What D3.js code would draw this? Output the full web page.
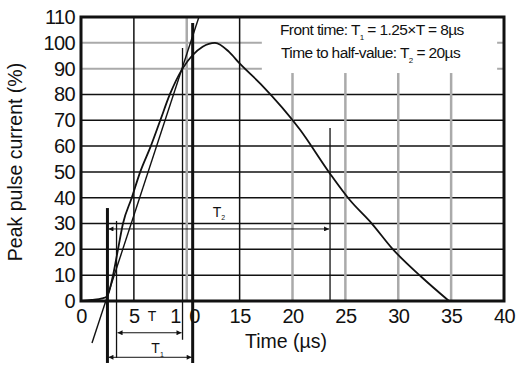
<!DOCTYPE html>
<html>

<head>
    <meta charset="UTF-8">
    <style>
        body { margin: 0; background: #fff; }
        svg { display: block; background: #fff; }
        text { font-family: "Liberation Sans", Arial, sans-serif; fill: #111; }
    </style>
</head>

<body>
    <svg></svg>
    <script src="https://d3js.org/d3.v7.min.js"></script>

    <script>
        const width = 516, height = 368;
        const margin = { top: 17, right: 12, bottom: 67, left: 81 };

        // axis ticks
        const xTicks = [0, 5, 10, 15, 20, 25, 30, 35, 40];
        const yTicks = [0, 10, 20, 30, 40, 50, 60, 70, 80, 90, 100, 110];

        // 8/20 current pulse: time (us) and current (% of peak)
        const pulseTime = [0, 1, 2, 2.46, 3.03, 3.5, 3.97, 4.8, 5.6, 6.6, 7.5, 8.4, 9.6, 10.5, 11.5, 12.67,
            14, 15, 17, 20.7, 23.5, 25.4, 27.5, 29.5, 32.2, 34.8];
        const pulsePct = [0, 0.4, 1, 1.8, 10, 20, 30, 40, 50, 60, 70, 80, 90, 95, 98.5, 100,
            96.5, 92, 84, 66.4, 49.6, 39.2, 30, 20, 9.3, 0];

        // straight line through the 30% and 90% points of the front
        const frontLineTime = [1.04, 11.15];
        const frontLinePct = [-16.3, 110];

        // construction lines (time, top %, bottom %)
        const heavyMarkTime = [2.5, 10.56];
        const heavyMarkTop = [36, 107.7];
        const heavyMarkBottom = [-24, -24];
        const lightMarkTime = [3.36, 9.6, 23.55];
        const lightMarkTop = [31, 98, 67];
        const lightMarkBottom = [-22, -15, 0];

        // dimension arrows: T2, T, T1
        const arrowFrom = [2.5, 3.36, 2.5];
        const arrowTo = [23.55, 9.6, 10.56];
        const arrowPct = [27.9, -12.3, -21.8];

        const svg = d3.select("svg")
            .attr("width", width)
            .attr("height", height);

        const x = d3.scaleLinear()
            .domain([0, 40])
            .range([margin.left, width - margin.right]);

        const y = d3.scaleLinear()
            .domain([0, 110])
            .range([height - margin.bottom, margin.top]);

        const isGrayX = d => d == 10 || d >= 20;
        const isGrayY = d => d >= 90;

        // grid
        svg.append("g")
            .selectAll("line")
            .data(yTicks.filter(d => d > 0 && d < 110))
            .join("line")
            .attr("x1", x(0)).attr("x2", x(40))
            .attr("y1", d => y(d)).attr("y2", d => y(d))
            .attr("stroke", d => isGrayY(d) ? "#aaa" : "#111")
            .attr("stroke-width", d => isGrayY(d) ? 2 : 1.5);

        svg.append("g")
            .selectAll("line")
            .data(xTicks.filter(d => d > 0 && d < 40))
            .join("line")
            .attr("x1", d => x(d)).attr("x2", d => x(d))
            .attr("y1", y(0)).attr("y2", y(110))
            .attr("stroke", d => isGrayX(d) ? "#aaa" : "#111")
            .attr("stroke-width", d => isGrayX(d) ? 2.5 : 1.5);

        // legend box blanks the grid in the top right corner
        svg.append("rect")
            .attr("x", x(17.1))
            .attr("y", y(110))
            .attr("width", x(39.35) - x(17.1))
            .attr("height", y(88.3) - y(110))
            .attr("fill", "#fff");

        const legend = svg.append("g").attr("font-size", "15.5px");
        const l1 = legend.append("text").attr("x", 280).attr("y", 35).attr("letter-spacing", "-0.6");
        l1.append("tspan").text("Front time: T");
        l1.append("tspan").attr("font-size", "8px").attr("dy", 5).text("1");
        l1.append("tspan").attr("dy", -5).text(" = 1.25\u00d7T = 8\u00b5s");
        const l2 = legend.append("text").attr("x", 281).attr("y", 58).attr("letter-spacing", "-0.6");
        l2.append("tspan").text("Time to half-value: T");
        l2.append("tspan").attr("font-size", "8px").attr("dy", 5).text("2");
        l2.append("tspan").attr("dy", -5).text(" = 20\u00b5s");

        // arrowheads
        const defs = svg.append("defs");
        defs.append("marker")
            .attr("id", "head")
            .attr("viewBox", "0 0 10 10")
            .attr("refX", 10).attr("refY", 5)
            .attr("markerWidth", 7).attr("markerHeight", 5)
            .attr("markerUnits", "userSpaceOnUse")
            .attr("orient", "auto-start-reverse")
            .append("path")
            .attr("d", "M0,0L10,5L0,10z")
            .attr("fill", "#111");

        // construction lines
        svg.append("g")
            .selectAll("line")
            .data(heavyMarkTime)
            .join("line")
            .attr("x1", d => x(d)).attr("x2", d => x(d))
            .attr("y1", (d, i) => y(heavyMarkTop[i]))
            .attr("y2", (d, i) => y(heavyMarkBottom[i]))
            .attr("stroke", "#111")
            .attr("stroke-width", 3);

        svg.append("g")
            .selectAll("line")
            .data(lightMarkTime)
            .join("line")
            .attr("x1", d => x(d)).attr("x2", d => x(d))
            .attr("y1", (d, i) => y(lightMarkTop[i]))
            .attr("y2", (d, i) => y(lightMarkBottom[i]))
            .attr("stroke", "#111")
            .attr("stroke-width", 1.3);

        svg.append("g")
            .selectAll("line")
            .data(arrowFrom)
            .join("line")
            .attr("x1", d => x(d) + 1)
            .attr("x2", (d, i) => x(arrowTo[i]) - 1)
            .attr("y1", (d, i) => y(arrowPct[i]))
            .attr("y2", (d, i) => y(arrowPct[i]))
            .attr("stroke", "#111")
            .attr("stroke-width", 1)
            .attr("marker-start", "url(#head)")
            .attr("marker-end", "url(#head)");

        // front line
        svg.append("line")
            .attr("x1", x(frontLineTime[0])).attr("y1", y(frontLinePct[0]))
            .attr("x2", x(frontLineTime[1])).attr("y2", y(frontLinePct[1]))
            .attr("stroke", "#111")
            .attr("stroke-width", 1.4);

        // pulse
        const line = d3.line()
            .x(d => x(d[0]))
            .y(d => y(d[1]))
            .curve(d3.curveMonotoneX);

        svg.append("path")
            .datum(d3.zip(pulseTime, pulsePct))
            .attr("d", line)
            .attr("fill", "none")
            .attr("stroke", "#111")
            .attr("stroke-width", 1.8);

        // frame
        svg.append("rect")
            .attr("x", x(0)).attr("y", y(110))
            .attr("width", x(40) - x(0))
            .attr("height", y(0) - y(110))
            .attr("fill", "none")
            .attr("stroke", "#111")
            .attr("stroke-width", 3);

        // axes
        const xAxis = svg.append("g")
            .attr("transform", "translate(0," + y(0) + ")")
            .call(d3.axisBottom(x).tickValues(xTicks).tickSize(0).tickPadding(8));
        const yAxis = svg.append("g")
            .attr("transform", "translate(" + x(0) + ",0)")
            .call(d3.axisLeft(y).tickValues(yTicks).tickSize(0).tickPadding(6));

        svg.selectAll(".domain").remove();
        svg.selectAll(".tick text")
            .attr("font-family", "'Liberation Sans', Arial, sans-serif")
            .attr("font-size", "20px")
            .attr("letter-spacing", "-0.6")
            .attr("fill", "#111");
        xAxis.selectAll(".tick text")
            .filter(d => d == 10)
            .attr("letter-spacing", "8px")
            .attr("dx", "2");

        // small labels
        const small = svg.append("g").attr("font-size", "14px");
        small.append("text")
            .attr("x", x(6.71)).attr("y", y(-7.6))
            .attr("text-anchor", "middle")
            .text("T");
        const t1 = small.append("text")
            .attr("x", x(6.65)).attr("y", y(-20.1));
        t1.append("tspan").text("T");
        t1.append("tspan").attr("font-size", "7px").attr("dy", 4).text("1");
        const t2 = small.append("text")
            .attr("x", x(12.45)).attr("y", y(32.5));
        t2.append("tspan").text("T");
        t2.append("tspan").attr("font-size", "7px").attr("dy", 3).text("2");

        // axis titles
        svg.append("text")
            .attr("x", 286).attr("y", 348)
            .attr("text-anchor", "middle")
            .attr("font-size", "19.5px")
            .text("Time (\u00b5s)");

        svg.append("text")
            .attr("transform", "translate(22,162) rotate(-90)")
            .attr("text-anchor", "middle")
            .attr("font-size", "19.5px")
            .text("Peak pulse current (%)");
    </script>

</body>

</html>
